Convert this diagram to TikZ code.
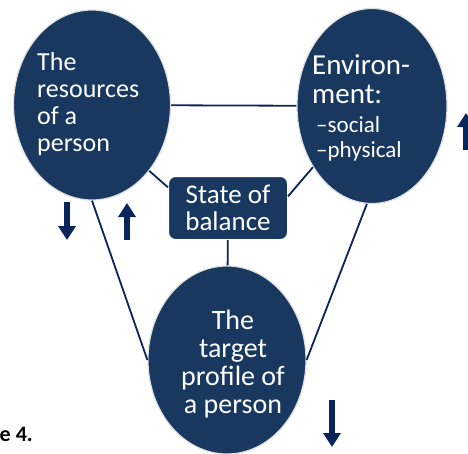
\documentclass[tikz,border=0pt]{standalone}
\usepackage{fontspec}
\setmainfont{Carlito}
\usetikzlibrary{shapes.geometric,arrows.meta}
\definecolor{navy}{RGB}{24,56,96}
\definecolor{inknavy}{RGB}{10,36,92}
\begin{document}
\begin{tikzpicture}[x=1pt,y=-1pt,
  blob/.style={ellipse,fill=navy,draw=gray!25,line width=1.2pt,inner sep=0pt},
  blobtext/.style={text=white,inner sep=0pt},
  balbox/.style={rectangle,rounded corners=7pt,fill=navy,draw=white,line width=1pt,text=white,
    minimum width=119pt,minimum height=63pt,align=center,font=\fontsize{27}{27.5}\selectfont},
  link/.style={inknavy,line width=1.8pt},
  updown/.style={inknavy,line width=6pt,-{Triangle[width=17pt,length=14pt]}}]
\useasboundingbox (0,0) rectangle (468,453);
\node[blob,minimum width=157pt,minimum height=190pt](res) at (92,105){};
\node[blob,minimum width=150pt,minimum height=195pt](env) at (372,106){};
\node[blob,minimum width=158pt,minimum height=188pt](tgt) at (227,360){};
\node[balbox](bal) at (228,208){State of\\balance};
\node[blobtext,anchor=north west,align=left,font=\fontsize{26}{27}\selectfont](resTxt) at (37,52){The\\resources\\of a\\person};
\node[blobtext,anchor=north west,align=left,font=\fontsize{29}{29}\selectfont](envTxt) at (312,54){Environ-\\ment:};
\node[blobtext,anchor=north west,align=left,font=\fontsize{23}{25.5}\selectfont](envSub) at (316,116){--social\\--physical};
\node[blobtext,anchor=north,align=center,font=\fontsize{28}{28}\selectfont](tgtTxt) at (233,310){The\\target\\profile of\\a person};
\node[anchor=base east,inner sep=0pt,font=\fontsize{22}{22}\selectfont\bfseries](fig) at (33,441){e 4.};
\draw[link](res) -- (env);
\draw[link](res.-49) -- (bal.161);
\draw[link](env.-134) -- (bal.11);
\draw[link](bal) -- (tgt);
\draw[link](res.south) -- (tgt.west);
\draw[link](env.-93) -- (tgt.east);
\coordinate (a1) at (67,202);
\coordinate (a2) at (127,240);
\coordinate (a3) at (466,150);
\coordinate (a4) at (332,400);
\draw[updown](a1) -- ++(0,38);
\draw[updown](a2) -- ++(0,-37);
\draw[updown](a3) -- ++(0,-37);
\draw[updown](a4) -- ++(0,47);
\end{tikzpicture}
\end{document}
